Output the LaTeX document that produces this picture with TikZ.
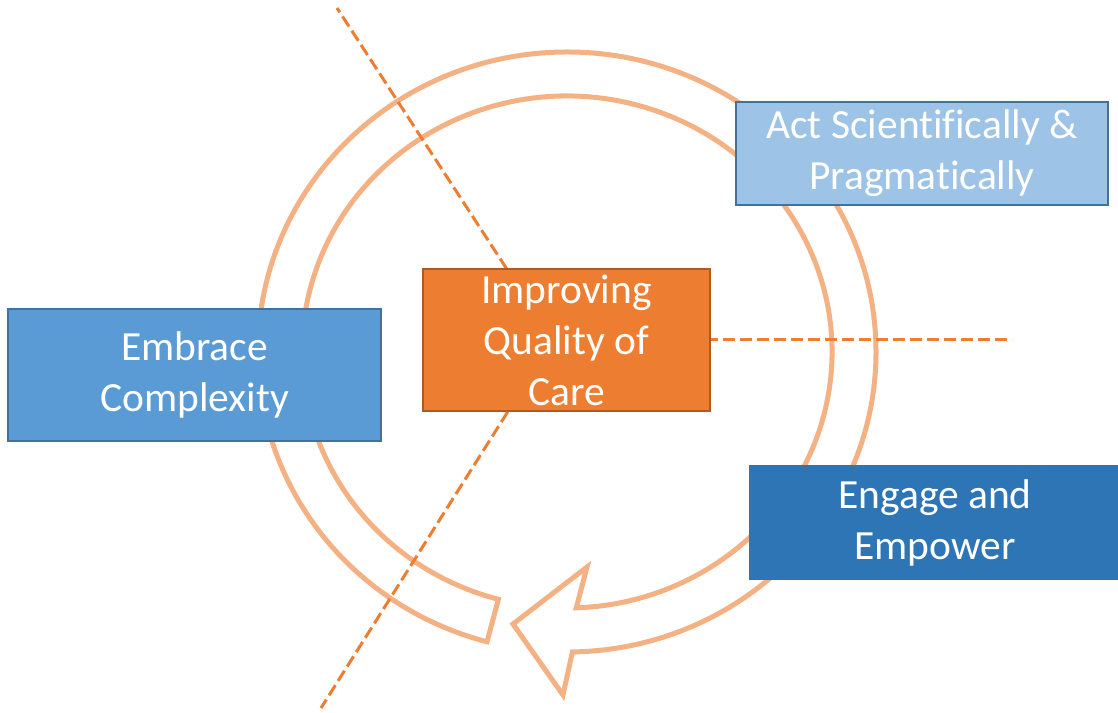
\documentclass[tikz,border=0pt]{standalone}
\usepackage{fontspec}
\setmainfont{Carlito}[Ligatures={NoCommon}]
\definecolor{ringc}{HTML}{F4B183}
\definecolor{dashc}{HTML}{ED7D31}
\definecolor{orangefill}{HTML}{ED7D31}
\definecolor{orangeline}{HTML}{AE5A21}
\definecolor{bluemid}{HTML}{5B9BD5}
\definecolor{bluelight}{HTML}{9DC3E6}
\definecolor{bluedark}{HTML}{2E75B6}
\definecolor{blueline}{HTML}{41719C}
\begin{document}
\begin{tikzpicture}[x=1pt,y=1pt,
  ring/.style={draw=ringc, line width=5pt, line join=miter, miter limit=10},
  guide/.style={draw=dashc, line width=3pt, dash pattern=on 12pt off 5pt},
  label/.style={text=white, align=center, inner sep=0pt,
    font=\fontsize{41.5}{51}\selectfont}]
\useasboundingbox (0,0) rectangle (1118,712);
% circular arrow
\coordinate (c) at (567,360);
\coordinate (barbup) at (587,145);
\coordinate (tip) at (513,88);
\coordinate (barblow) at (563,17);
\draw[ring] ([shift={(-105:265pt and 256pt)}]c)
  arc[start angle=-105, end angle=-448, x radius=265pt, y radius=256pt]
  -- (barbup) -- (tip) -- (barblow)
  -- ([shift={(-449:309pt and 300pt)}]c)
  arc[start angle=-449, end angle=-105, x radius=309pt, y radius=300pt]
  -- cycle;
% dashed guides
\coordinate (hub) at (553,372);
\coordinate (e1) at (337,704);
\coordinate (e2) at (1012,372);
\coordinate (e3) at (321,4);
\draw[guide] (hub) -- (e1);
\draw[guide] (hub) -- (e2);
\draw[guide] (hub) -- (e3);
% boxes
\node[label, draw=blueline, line width=2pt, fill=bluemid,
  minimum width=373pt, minimum height=132pt] (emb) at (194.5,337)
  {Embrace\\Complexity};
\node[label, draw=blueline, line width=2pt, fill=bluelight,
  minimum width=372pt, minimum height=103pt] (act) at (922,558.5)
  {Act Scientifically \&\\Pragmatically};
\node[label, fill=bluedark,
  minimum width=372pt, minimum height=115pt] (eng) at (935,189.5)
  {Engage and\\Empower};
\node[label, draw=orangeline, line width=2.5pt, fill=orangefill,
  minimum width=287pt, minimum height=142pt] (imp) at (566.5,372)
  {Improving\\Quality of\\Care};
\end{tikzpicture}
\end{document}
